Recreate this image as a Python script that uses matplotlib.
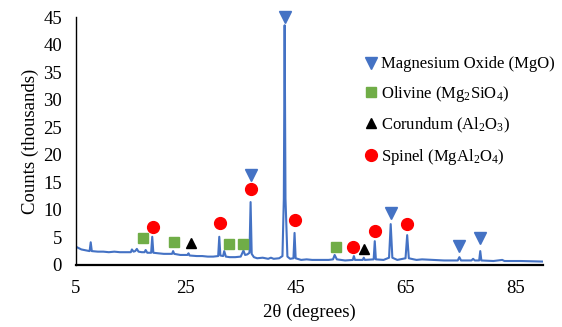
import matplotlib.pyplot as plt
from matplotlib.lines import Line2D

plt.rcParams['font.family'] = ['Liberation Serif', 'DejaVu Serif']
plt.rcParams['mathtext.fontset'] = 'custom'
plt.rcParams['mathtext.rm'] = 'Liberation Serif'
plt.rcParams['mathtext.it'] = 'Liberation Serif'

# XRD pattern (2theta, counts in thousands)
two_theta = [5, 6, 7, 7.5, 7.7, 7.9, 9, 10, 11, 12, 13, 14, 15, 15.2, 15.5,
             15.8, 16.1, 16.4, 17, 17.5, 17.7, 18, 18.7, 18.9, 19.1, 20, 21,
             22, 22.5, 22.7, 22.9, 24, 25, 25.3, 25.5, 25.7, 27, 28, 29, 30,
             30.9, 31.1, 31.3, 31.8, 32.0, 32.3, 33, 34, 35, 35.5, 35.8, 36.2,
             36.6, 36.8, 37.0, 37.4, 38, 39, 40, 40.5, 41, 42, 42.6, 42.85,
             43.0, 43.15, 43.5, 44, 44.6, 44.8, 45.0, 46, 47, 48, 50, 51, 51.8,
             52.1, 52.5, 54, 55.4, 55.6, 55.8, 57.2, 57.4, 57.6, 59.2, 59.4,
             59.6, 61, 62.0, 62.3, 62.6, 63.5, 65.0, 65.3, 65.6, 66.5, 67, 68,
             70, 72, 74.5, 74.8, 75.1, 77, 77.3, 77.6, 78.4, 78.6, 78.8, 81,
             82.6, 83, 86, 90]
counts = [3.3, 2.8, 2.6, 2.5, 4.1, 2.5, 2.4, 2.4, 2.3, 2.4, 2.3, 2.3, 2.3, 2.8,
          2.4, 2.5, 2.9, 2.4, 2.3, 2.3, 2.7, 2.2, 2.2, 5.1, 2.2, 2.1, 2.0,
          2.0, 2.0, 2.5, 2.0, 1.8, 1.8, 1.8, 2.1, 1.7, 1.6, 1.6, 1.5, 1.5,
          1.6, 5.1, 1.7, 1.6, 2.5, 1.5, 1.4, 1.4, 1.5, 2.6, 1.8, 1.9,
          2.2, 11.4, 2.0, 1.4, 1.2, 1.3, 1.1, 1.3, 1.1, 1.2, 1.6, 12.0,
          43.5, 12.0, 1.5, 1.1, 1.2, 5.8, 1.2, 0.9, 1.0, 0.9, 0.9, 0.9, 1.0,
          1.8, 1.0, 0.8, 0.9, 1.6, 0.9, 0.9, 1.3, 0.9, 1.0, 4.3,
          1.0, 0.9, 1.3, 7.4, 1.3, 0.9, 1.2, 5.4, 1.2, 1.0, 0.9, 1.0,
          0.9, 0.8, 0.8, 1.4, 0.8, 0.8, 1.1, 0.8, 0.8, 2.5, 0.8, 0.7,
          0.9, 0.7, 0.7, 0.6]

# phase markers
mgo_x = [36.8, 43.0, 62.3, 74.8, 78.6]
mgo_y = [16.3, 45.0, 9.4, 3.4, 4.9]
olivine_x = [17.2, 22.9, 32.8, 35.5, 52.3]
olivine_y = [4.9, 4.2, 3.8, 3.8, 3.3]
corundum_x = [26.0, 57.4]
corundum_y = [4.0, 2.9]
spinel_x = [19.1, 31.3, 36.8, 44.8, 55.4, 59.4, 65.3]
spinel_y = [6.9, 7.6, 13.8, 8.2, 3.3, 6.2, 7.4]

labels = ['Magnesium Oxide (MgO)', r'Olivine (Mg$_2$SiO$_4$)',
          r'Corundum (Al$_2$O$_3$)', r'Spinel (MgAl$_2$O$_4$)']

fig = plt.figure(figsize=(5.62, 3.27), dpi=100)
ax = fig.add_axes([0.135, 0.19, 0.831, 0.758])

ax.plot(two_theta, counts, color='#4472C4', lw=1.5, zorder=2)
ax.plot(mgo_x, mgo_y, 'v', color='#4472C4', ms=8, ls='none', clip_on=False)
ax.plot(olivine_x, olivine_y, 's', color='#70AD47', ms=7.5, ls='none')
ax.plot(corundum_x, corundum_y, '^', color='black', ms=7.5, ls='none')
ax.plot(spinel_x, spinel_y, 'o', color='#FF0000', ms=8.5, ls='none')

ax.set_xlim(5, 90)
ax.set_ylim(0, 45)
ax.set_xticks([5, 25, 45, 65, 85])
ax.set_yticks(range(0, 46, 5))
ax.tick_params(length=0, labelsize=13.5)
ax.tick_params(axis='x', pad=11)
ax.tick_params(axis='y', pad=10)
ax.spines['top'].set_visible(False)
ax.spines['right'].set_visible(False)
ax.spines['bottom'].set_linewidth(1.6)
ax.spines['left'].set_linewidth(1.0)
ax.set_xlabel('2θ (degrees)', fontsize=13.5, labelpad=5)
ax.set_ylabel('Counts (thousands)', fontsize=13.5, labelpad=3)

handles = [
    Line2D([], [], marker='v', color='#4472C4', ls='none', ms=8),
    Line2D([], [], marker='s', color='#70AD47', ls='none', ms=7.5),
    Line2D([], [], marker='^', color='black', ls='none', ms=7.5),
    Line2D([], [], marker='o', color='#FF0000', ls='none', ms=8.5),
]
fig.legend(handles, labels, loc='upper left', bbox_to_anchor=(0.64, 0.848),
           frameon=False, fontsize=12, handlelength=0.6, handletextpad=0.3,
           labelspacing=0.7, borderaxespad=0)

fig.savefig('out.png', dpi=100)
